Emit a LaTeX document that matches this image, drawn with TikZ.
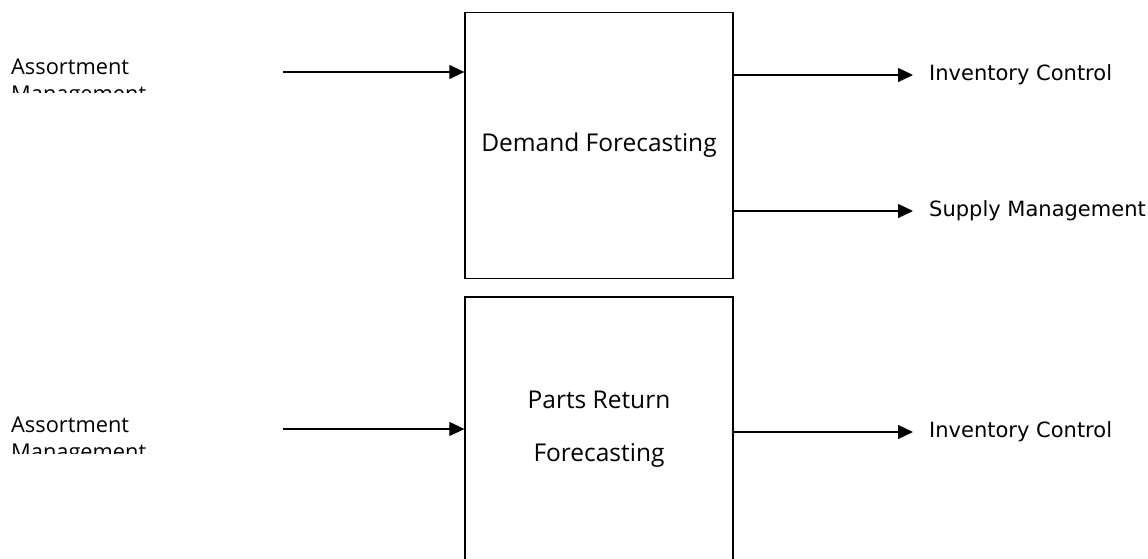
\documentclass[tikz,border=0pt]{standalone}
\usepackage{fontspec}
\setmainfont{Open Sans}
\newfontfamily\labelfont{DejaVu Sans}
\usetikzlibrary{arrows.meta}

\tikzset{
  procbox/.style={draw=black, line width=1.3pt, fill=white, minimum width=268pt,
    inner sep=0pt, font=\fontsize{24.5}{53}\selectfont, align=center},
  srclabel/.style={anchor=base west, inner sep=0pt, font=\fontsize{21.8}{27}\selectfont},
  dstlabel/.style={anchor=west, inner xsep=16pt, inner ysep=0pt, font=\labelfont\fontsize{21}{24}\selectfont},
  flow/.style={line width=1.2pt, -{Triangle[length=15pt, width=14pt]}}
}

\begin{document}
\begin{tikzpicture}[x=1pt, y=-1pt]
  \useasboundingbox (0,0) rectangle (1148,559);
  \clip (0,0) rectangle (1148,559);

  % processing boxes
  \node[procbox, minimum height=266pt] (demand) at (599,145.5) {Demand Forecasting};
  \node[procbox, minimum height=264pt] (returns) at (599,429) {Parts Return\\Forecasting};

  % source labels, cut off below the first line
  \begin{scope}
    \clip (0,40) rectangle (200,93);
    \node[srclabel] (src1) at (11,75) {Assortment};
    \node[srclabel] (src1b) at (11,102) {Management};
  \end{scope}
  \begin{scope}
    \clip (0,400) rectangle (200,453);
    \node[srclabel] (src2) at (11,432) {Assortment};
    \node[srclabel] (src2b) at (11,459) {Management};
  \end{scope}

  % incoming flows
  \coordinate (in1) at (283,72);
  \coordinate (in2) at (283,429);
  \draw[flow] (in1) -- (in1 -| demand.west);
  \draw[flow] (in2) -- (in2 -| returns.west);

  % destination labels
  \node[dstlabel] (inv1) at (913,75) {Inventory Control};
  \node[dstlabel] (sup1) at (913,211) {Supply Management};
  \node[dstlabel] (inv2) at (913,432) {Inventory Control};

  % outgoing flows
  \draw[flow] (demand.east |- inv1.west) -- (inv1.west);
  \draw[flow] (demand.east |- sup1.west) -- (sup1.west);
  \draw[flow] (returns.east |- inv2.west) -- (inv2.west);
\end{tikzpicture}
\end{document}
